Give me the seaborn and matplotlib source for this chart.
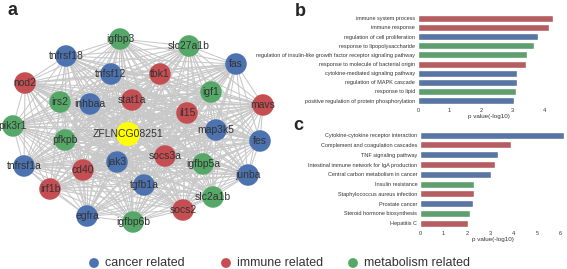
import itertools
import matplotlib.pyplot as plt
import seaborn as sns
import pandas as pd

# network (panel a): node names, group, layout position in pixels
genes = ['igfbp3', 'slc27a1b', 'tnfrsf18', 'tnfsf12', 'tbk1', 'fas', 'nod2', 'irs2',
         'inhbaa', 'stat1a', 'igf1', 'mavs', 'pik3r1', 'il15', 'ZFLNCG08251', 'map3k5',
         'pfkpb', 'fes', 'tnfrsf1a', 'jak3', 'socs3a', 'igfbp5a', 'cd40', 'tgfb1a',
         'junba', 'irf1b', 'slc2a1b', 'egfra', 'socs2', 'igfbp6b']
gene_group = ['metabolism', 'metabolism', 'cancer', 'cancer', 'immune', 'cancer', 'immune',
              'metabolism', 'cancer', 'immune', 'metabolism', 'immune', 'metabolism', 'immune',
              'lncRNA', 'cancer', 'metabolism', 'cancer', 'cancer', 'cancer', 'immune',
              'metabolism', 'immune', 'cancer', 'cancer', 'immune', 'metabolism', 'cancer',
              'immune', 'metabolism']
node_x = [120, 189, 66, 111, 160, 236, 25, 60, 90, 132, 211, 263, 13, 187, 128, 216,
          65, 260, 24, 117, 165, 203, 83, 144, 248, 50, 213, 87, 183, 133]
node_y = [39, 46, 56, 74, 74, 64, 83, 102, 104, 100, 92, 105, 126, 113, 134, 130,
          140, 141, 166, 162, 156, 164, 170, 185, 175, 189, 197, 216, 210, 222]

# GO terms (panel b)
go_terms = ['immune system process', 'immune response', 'regulation of cell proliferation',
            'response to lipopolysaccharide',
            'regulation of insulin-like growth factor receptor signaling pathway',
            'response to molecule of bacterial origin', 'cytokine-mediated signaling pathway',
            'regulation of MAPK cascade', 'response to lipid',
            'positive regulation of protein phosphorylation']
go_pval = [4.28, 4.16, 3.81, 3.68, 3.45, 3.41, 3.14, 3.14, 3.10, 3.04]
go_group = ['immune', 'immune', 'cancer', 'metabolism', 'metabolism', 'immune',
            'cancer', 'cancer', 'metabolism', 'cancer']

# KEGG pathways (panel c)
kegg_terms = ['Cytokine-cytokine receptor interaction', 'Complement and coagulation cascades',
              'TNF signaling pathway', 'Intestinal immune network for IgA production',
              'Central carbon metabolism in cancer', 'Insulin resistance',
              'Staphylococcus aureus infection', 'Prostate cancer',
              'Steroid hormone biosynthesis', 'Hepatitis C']
kegg_pval = [6.17, 3.90, 3.33, 3.19, 3.05, 2.33, 2.33, 2.27, 2.13, 2.06]
kegg_group = ['cancer', 'immune', 'cancer', 'immune', 'cancer', 'metabolism',
              'immune', 'cancer', 'metabolism', 'immune']

pal = {'cancer': '#4C72B0', 'immune': '#C44E52', 'metabolism': '#55A868', 'lncRNA': '#FFFF00'}
legend_groups = ['cancer', 'immune', 'metabolism']
legend_names = ['cancer related', 'immune related', 'metabolism related']
legend_x = [94, 226, 353]  # marker positions in pixels

sns.set_style('white')
plt.rcParams['font.family'] = ['Liberation Sans', 'DejaVu Sans']

W, H = 567, 269
fig = plt.figure(figsize=(W / 100, H / 100), dpi=100)

# ---- panel a: network
axa = fig.add_axes([0, 0, 300 / W, 1])
nodes = pd.DataFrame({'gene': genes, 'group': gene_group, 'x': node_x, 'y': node_y})
for i, j in itertools.combinations(range(len(nodes)), 2):
    axa.plot([node_x[i], node_x[j]], [node_y[i], node_y[j]], color='#c8c8c8', lw=0.75, zorder=1)
genes_df = nodes[nodes.group != 'lncRNA']
hub_df = nodes[nodes.group == 'lncRNA']
sns.scatterplot(data=genes_df, x='x', y='y', hue='group', palette=pal, s=240,
                edgecolor='none', legend=False, ax=axa, zorder=3)
sns.scatterplot(data=hub_df, x='x', y='y', hue='group', palette=pal, s=300,
                edgecolor='none', legend=False, ax=axa, zorder=3)
for _, r in nodes.iterrows():
    axa.text(r.x, r.y, r.gene, ha='center', va='center', fontsize=7.5, color='#333333', zorder=4)
axa.set_xlim(0, 300)
axa.set_ylim(H, 0)
axa.axis('off')

# ---- panel b: GO
axb = fig.add_axes([418 / W, 1 - 105.2 / H, 142 / W, 91.5 / H])
sns.barplot(x=go_pval, y=go_terms, hue=go_group, palette=pal, dodge=False,
            legend=False, width=0.77, ax=axb)
axb.set_xlim(0, 4.5)
axb.set_xticks([0, 1, 2, 3, 4])
axb.set_xlabel('p value(-log10)', fontsize=4.5, labelpad=1, color='#333333')
axb.set_ylabel('')

# ---- panel c: KEGG
axc = fig.add_axes([420 / W, 1 - 228.2 / H, 145 / W, 98 / H])
sns.barplot(x=kegg_pval, y=kegg_terms, hue=kegg_group, palette=pal, dodge=False,
            legend=False, width=0.72, ax=axc)
axc.set_xlim(0, 6.2)
axc.set_xticks([0, 1, 2, 3, 4, 5, 6])
axc.set_xlabel('p value(-log10)', fontsize=4.5, labelpad=1, color='#333333')
axc.set_ylabel('')

for ax in (axb, axc):
    ax.tick_params(axis='both', labelsize=4, length=0, pad=2, colors='#333333')
    sns.despine(ax=ax, left=True, bottom=True)

# panel letters
fig.text(8 / W, 1 - 15 / H, 'a', fontsize=13, fontweight='bold', va='baseline')
fig.text(295 / W, 1 - 16 / H, 'b', fontsize=13, fontweight='bold', va='baseline')
fig.text(293 / W, 1 - 130 / H, 'c', fontsize=13, fontweight='bold', va='baseline')

# legend, drawn on a full-figure overlay in pixel units
axl = fig.add_axes([0, 0, 1, 1], zorder=5)
axl.set_xlim(0, W)
axl.set_ylim(H, 0)
axl.axis('off')
sns.scatterplot(x=legend_x, y=[263] * 3, hue=legend_groups, palette=pal, s=50,
                edgecolor='none', legend=False, ax=axl)
for lx, name in zip(legend_x, legend_names):
    axl.text(lx + 11, 263, name, fontsize=9, color='#333333', va='center', ha='left')

fig.savefig('out.png', dpi=100)
